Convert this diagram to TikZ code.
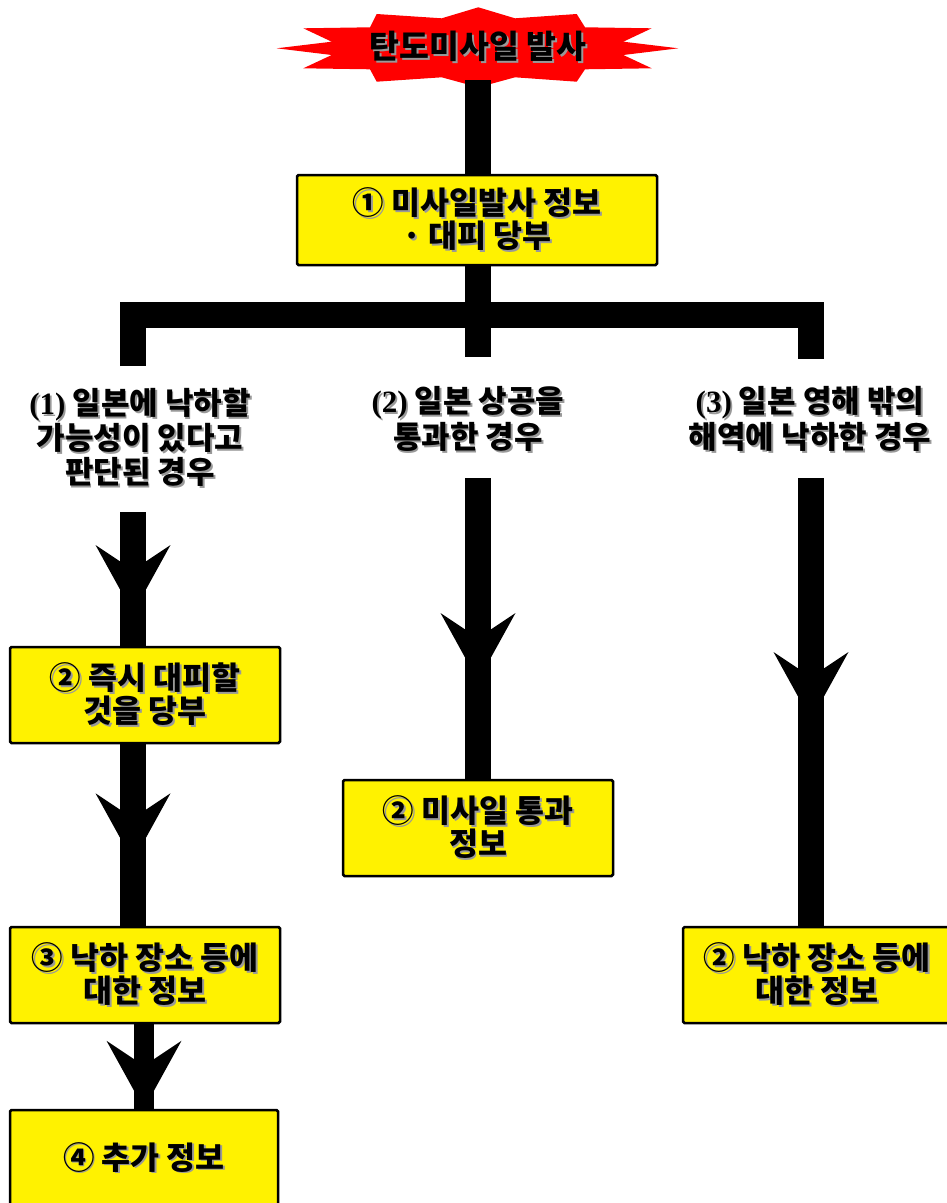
\documentclass[tikz,border=0pt]{standalone}
\usepackage{fontspec}
\newfontfamily\kr{Noto Sans CJK KR}
\newfontfamily\ser{Liberation Serif}
\usetikzlibrary{decorations.markings,backgrounds}
\newcommand\shd[1]{\leavevmode\rlap{\kern1.8pt\raisebox{-1.8pt}{\textcolor{black!40}{#1}}}#1}
\begin{document}
\begin{tikzpicture}[x=1pt,y=-1pt,
  txt/.style={font=\kr\bfseries\fontsize{31.5}{33}\selectfont, align=center, inner sep=0pt},
  lbl/.style={txt, font=\kr\bfseries\fontsize{31}{33.5}\selectfont},
  box/.style={txt, fill=yellow, draw=black, line width=2.5pt, rounded corners=1.5pt, minimum width=270pt, minimum height=96pt},
  shaft/.style={draw=black, line width=26pt},
  head at/.style={postaction={decorate}, decoration={markings, mark=at position #1 with {\fill[black] (0,0) -- (-68,37.5) -- (-43,0) -- (-68,-37.5) -- cycle;}}}
]
\useasboundingbox (0,0) rectangle (946,1203);

% coordinates
\coordinate (btop) at (478,80);
\coordinate (hbar) at (478,315);
\coordinate (ldrop) at (133,366);
\coordinate (mdrop) at (478,357);
\coordinate (rdrop) at (811,359);
\coordinate (ltop) at (133,512);
\coordinate (mtop) at (478,478);
\coordinate (rtop) at (811,478);

% texts and boxes
\node[txt, font=\kr\bfseries\fontsize{32.5}{33}\selectfont] (burst) at (478,47) {\shd{탄도미사일 발사}};
\node[box, minimum width=360pt, minimum height=90pt] (b1) at (477,220) {\shd{① 미사일발사 정보}\\\shd{· 대피 당부}};
\node[lbl] (l1) at (140,438) {\shd{{\ser(1)} 일본에 낙하할}\\\shd{가능성이 있다고}\\\shd{판단된 경우}};
\node[lbl] (l2) at (468,420) {\shd{{\ser(2)} 일본 상공을}\\\shd{통과한 경우}};
\node[lbl] (l3) at (810,420) {\shd{{\ser(3)} 일본 영해 밖의}\\\shd{해역에 낙하한 경우}};
\node[box] (b2) at (145,695) {\shd{② 즉시 대피할}\\\shd{것을 당부}};
\node[box] (b3) at (145,975) {\shd{③ 낙하 장소 등에}\\\shd{대한 정보}};
\node[box, minimum width=268pt] (b4) at (144,1158) {\shd{④ 추가 정보}};
\node[box] (mb) at (478,828) {\shd{② 미사일 통과}\\\shd{정보}};
\node[box, minimum width=268pt] (rb) at (817,975) {\shd{② 낙하 장소 등에}\\\shd{대한 정보}};

\begin{pgfonlayer}{background}
\fill[red] (376.7,14) -- (441.7,18.3) -- (478.3,7.3) -- (515,18.3) -- (576.7,14) -- (585,27.3)
  -- (651.7,28.3) -- (623.3,41.7) -- (678.3,48.3) -- (623.3,55) -- (651.7,68.3) -- (585,69.3)
  -- (576.7,81.7) -- (515,77.3) -- (478.3,87.3) -- (441.7,77.3) -- (376.7,81.7) -- (370,69.3)
  -- (303.3,68.3) -- (331.7,55) -- (276.7,48.3) -- (331.7,41.7) -- (303.3,28.3) -- (370,27.3) -- cycle;
\draw[shaft, head at=97pt] (btop) -- (btop |- b1.north);
\draw[shaft] (btop |- b1.south) -- (mdrop);
\draw[shaft, line join=miter] (ldrop) -- (ldrop |- hbar) -- (rdrop |- hbar) -- (rdrop);
\draw[shaft, head at=101pt] (ltop) -- (ltop |- b2.north);
\draw[shaft, head at=117pt] (ltop |- b2.south) -- (ltop |- b3.north);
\draw[shaft, line width=20pt, head at=1] (b3.south -| b4.north) -- (b4.north);
\draw[shaft, head at=203pt] (mtop) -- (mtop |- mb.north);
\draw[shaft, head at=242pt] (rtop) -- (rtop |- rb.north);
\end{pgfonlayer}
\end{tikzpicture}
\end{document}
